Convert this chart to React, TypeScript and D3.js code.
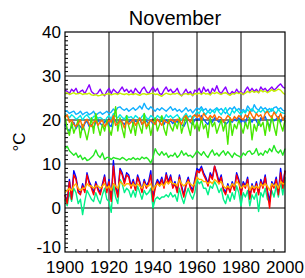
import React from 'react';
import { scaleLinear, line, range } from 'd3';

// November mean temperatures, one value per year 1900..2000
const years = range(1900, 2001);

const purple = [
  26.8, 26.5, 26.0, 27.0, 26.5, 27.2, 26.0, 26.5, 26.8, 26.0,
  27.0, 28.0, 26.5, 26.0, 25.8, 26.2, 27.0, 26.0, 25.5, 26.5,
  27.2, 26.0, 27.0, 26.5, 26.0, 26.8, 27.5, 26.5, 27.0, 26.2,
  26.8, 26.0, 27.2, 26.5, 26.0, 27.0, 27.5, 26.5, 26.0, 26.8,
  27.5, 26.5, 27.2, 26.0, 25.8, 26.8, 27.5, 26.5, 27.0, 26.2,
  26.5, 27.2, 26.0, 25.5, 26.2, 27.0, 26.0, 26.5, 25.5, 26.8,
  26.5, 27.2, 26.0, 27.5, 26.5, 27.0, 25.8, 27.2, 26.5, 27.8,
  26.5, 26.0, 26.8, 27.5, 26.2, 25.8, 26.5, 26.0, 27.0, 26.2,
  26.5, 25.8, 26.8, 27.5, 26.5, 27.2, 26.5, 27.0, 26.2, 27.5,
  26.8, 27.2, 26.5, 27.0, 27.5, 26.8, 27.2, 27.8, 28.2, 27.5, 27.2,
];

const yellowGreen = [
  26.0, 26.2, 25.8, 26.0, 26.2, 25.9, 26.0, 26.1, 25.8, 26.0,
  25.9, 26.1, 25.7, 25.6, 25.8, 25.5, 25.6, 25.8, 25.7, 25.9,
  26.0, 25.7, 25.9, 26.0, 25.8, 26.1, 25.9, 25.8, 26.0, 25.7,
  25.9, 25.8, 26.0, 25.8, 25.6, 25.9, 26.0, 25.8, 25.9, 26.0,
  26.1, 25.8, 25.9, 25.6, 25.4, 25.8, 26.1, 25.9, 25.8, 26.0,
  25.9, 26.1, 25.8, 25.5, 25.9, 26.0, 25.8, 26.0, 25.6, 26.0,
  25.9, 26.1, 25.8, 26.2, 25.9, 26.0, 25.7, 26.2, 26.0, 26.3,
  26.0, 25.8, 26.1, 26.2, 25.9, 25.6, 26.0, 25.9, 26.2, 26.0,
  26.2, 25.8, 26.1, 26.5, 26.2, 26.6, 26.3, 26.5, 26.2, 26.8,
  26.4, 26.6, 26.2, 26.5, 26.9, 26.5, 26.7, 27.0, 26.8, 26.2, 25.8,
];

const lightBlue = [
  22.2, 22.0, 21.5, 21.8, 22.0, 21.3, 21.5, 22.0, 21.2, 21.6,
  21.8, 21.2, 21.5, 22.0, 21.0, 21.5, 21.8, 21.3, 21.6, 22.0,
  21.5, 21.8, 22.5, 22.0, 22.8, 23.0, 22.5, 22.2, 22.6, 22.0,
  22.4, 22.8, 22.2, 22.6, 23.2, 22.5, 23.8, 22.8, 22.4, 23.0,
  22.5, 22.0, 22.6, 22.2, 22.8, 22.4, 22.0, 22.5, 23.0, 22.2,
  22.6, 22.0, 22.4, 21.8, 22.2, 22.8, 22.0, 22.4, 21.6, 22.2,
  22.8, 22.4, 23.0, 22.2, 22.6, 21.8, 22.5, 22.0, 22.4, 22.8,
  22.2, 22.6, 22.0, 21.5, 22.2, 22.8, 22.4, 23.0, 22.2, 22.6,
  22.0, 22.4, 21.8, 23.2, 22.5, 22.0, 23.5, 22.6, 22.2, 23.0,
  22.4, 22.8, 22.2, 22.6, 22.0, 22.8, 23.0, 22.4, 22.8, 22.2, 22.0,
];

const cyan = [
  21.5, 21.0, 20.5, 21.2, 20.8, 20.2, 20.5, 21.0, 20.0, 20.8,
  21.2, 20.5, 20.0, 20.8, 21.0, 20.4, 20.6, 20.2, 19.5, 20.5,
  21.0, 20.2, 21.5, 20.8, 20.5, 21.2, 20.6, 20.2, 21.0, 20.5,
  20.8, 20.2, 21.0, 20.6, 20.0, 20.8, 21.4, 20.5, 20.2, 21.0,
  20.6, 20.2, 21.0, 20.5, 20.8, 20.2, 21.2, 20.6, 21.0, 20.4,
  20.8, 21.2, 20.5, 20.0, 20.8, 21.5, 20.6, 21.0, 20.2, 21.0,
  22.0, 21.5, 22.5, 21.8, 21.2, 22.0, 21.5, 22.2, 21.6, 22.6,
  21.8, 21.2, 22.0, 22.8, 21.5, 21.0, 22.2, 21.6, 22.4, 21.8,
  21.2, 22.0, 21.6, 22.4, 21.8, 22.6, 22.0, 21.5, 22.2, 21.8,
  22.4, 21.6, 22.2, 21.8, 22.6, 22.0, 21.5, 22.4, 21.8, 21.6, 21.5,
];

const blueUpper = [
  19.0, 18.0, 17.5, 18.5, 19.5, 18.0, 19.0, 18.5, 17.8, 19.2,
  19.8, 18.5, 19.0, 18.2, 19.5, 20.0, 19.2, 18.8, 19.5, 20.0,
  19.0, 18.5, 20.5, 19.8, 19.2, 20.2, 19.5, 19.0, 19.8, 19.5,
  20.0, 19.2, 19.8, 19.5, 20.2, 19.0, 19.5, 19.8, 19.2, 20.0,
  19.0, 19.5, 20.2, 19.5, 19.8, 19.0, 20.0, 19.5, 19.8, 19.2,
  19.8, 19.5, 20.0, 19.0, 18.5, 19.5, 20.2, 19.5, 19.0, 20.0,
  20.5, 20.0, 21.0, 20.2, 19.5, 19.0, 20.2, 19.5, 20.5, 20.0,
  19.5, 20.2, 19.8, 19.0, 19.5, 20.0, 19.5, 20.2, 19.8, 20.5,
  19.5, 20.0, 19.2, 21.0, 20.2, 19.5, 20.5, 19.8, 18.8, 20.5,
  20.0, 20.8, 19.5, 18.5, 20.5, 19.8, 20.2, 20.8, 19.5, 20.5, 20.2,
];

const lime = [
  21.0, 18.0, 16.5, 19.5, 17.0, 18.5, 20.0, 16.0, 19.0, 17.5,
  15.5, 18.0, 20.5, 17.0, 21.5, 18.5, 16.5, 19.0, 17.5, 20.0,
  18.0, 16.5, 19.5, 23.0, 17.5, 20.5, 18.0, 16.0, 21.0, 18.5,
  17.0, 19.5, 16.5, 20.0, 18.5, 17.0, 21.5, 18.0, 19.5, 16.5,
  19.0, 20.5, 17.5, 19.0, 21.0, 18.0, 16.5, 20.0, 18.5, 17.5,
  19.5, 18.0, 20.5, 17.0, 19.0, 21.0, 18.5, 16.5, 20.0, 18.0,
  19.5, 17.5, 20.5, 18.0, 19.0, 16.0, 20.5, 18.5, 19.5, 17.0,
  18.5, 20.0, 17.5, 19.5, 14.5, 20.5, 16.5, 19.0, 18.0, 20.0,
  18.5, 17.0, 19.5, 18.0, 20.5, 15.5, 19.0, 17.5, 20.0, 18.5,
  19.5, 16.5, 20.0, 17.5, 21.0, 18.5, 16.5, 20.5, 19.0, 17.5, 20.0,
];

const orangeUpper = [
  20.5, 21.2, 19.5, 20.0, 19.0, 18.5, 19.2, 20.0, 18.2, 19.5,
  20.2, 19.0, 18.5, 19.5, 19.8, 18.8, 19.5, 20.0, 18.5, 19.2,
  20.0, 19.5, 21.0, 18.8, 19.2, 20.0, 19.5, 18.2, 19.8, 19.0,
  19.5, 20.2, 18.8, 19.5, 20.5, 19.0, 19.8, 18.5, 19.2, 20.0,
  19.5, 19.0, 20.2, 19.5, 18.8, 20.0, 19.5, 19.2, 20.2, 19.8,
  19.5, 20.2, 19.8, 19.0, 20.5, 21.0, 20.2, 19.5, 20.8, 21.2,
  20.5, 21.2, 20.0, 21.5, 20.8, 20.2, 21.0, 20.5, 21.2, 20.0,
  20.8, 20.5, 19.5, 20.2, 21.0, 20.5, 19.8, 20.8, 20.2, 21.0,
  20.5, 20.0, 21.2, 20.5, 22.0, 21.0, 20.2, 21.5, 20.8, 21.2,
  20.0, 21.5, 22.0, 21.0, 20.5, 21.8, 21.0, 20.2, 21.5, 20.0, 21.0,
];

const greenMid = [
  13.5, 14.0, 13.0, 12.5, 12.0, 12.5, 11.5, 12.0, 11.0, 11.5,
  10.8, 11.0, 11.5, 12.0, 13.2, 12.0, 11.5, 12.5, 11.0, 11.5,
  11.5, 11.0, 11.5, 11.3, 11.2, 11.0, 11.5, 11.2, 10.8, 11.2,
  11.0, 11.5, 11.0, 11.3, 11.0, 11.6, 11.2, 11.5, 11.0, 10.2,
  11.5, 13.5, 12.5, 12.0, 12.8, 12.0, 12.5, 11.5, 12.0, 11.8,
  12.5, 11.5, 12.0, 13.0, 12.0, 12.5, 11.8, 12.0, 11.5, 12.2,
  13.0, 12.5, 12.0, 12.8, 12.0, 11.5, 12.5, 13.2, 12.0, 12.5,
  11.8, 12.5, 13.0, 12.0, 12.8, 12.2, 11.5, 12.5, 12.0, 11.8,
  11.5, 12.5, 12.0, 12.8, 13.0, 12.2, 12.5, 13.5, 12.0, 12.5,
  12.0, 13.0, 12.5, 13.5, 12.8, 14.2, 13.0, 12.5, 13.2, 12.0, 13.5,
];

const blueLower = [
  3.0, 1.5, 6.5, 2.5, 8.5, 7.0, 4.0, 3.5, 5.5, 4.0,
  8.0, 6.0, 5.0, 3.5, 6.0, 4.5, 3.5, 5.5, 7.5, 4.0,
  6.5, 2.0, 10.8, 5.0, 3.0, 9.0, 8.0, 6.0, 8.0, 7.5,
  5.0, 6.5, 4.5, 7.5, 6.0, 4.0, 6.5, 5.0, 6.0, 8.5,
  2.0, 5.0, 6.5, 5.5, 7.0, 5.0, 8.0, 6.0, 7.5, 5.0,
  6.0, 4.0, 7.5, 5.0, 3.0, 5.5, 7.0, 5.0, 4.0, 6.5,
  9.0, 8.5, 9.5, 8.0, 7.0, 5.5, 8.0, 7.0, 9.5, 8.0,
  6.0, 7.5, 4.5, 3.5, 5.5, 4.0, 6.0, 4.5, 8.0, 6.5,
  3.5, 6.0, 5.0, 7.0, 2.5, 5.5, 4.0, 6.0, 3.5, 6.5,
  5.0, 7.5, 4.0, 1.5, 6.0, 5.0, 7.0, 3.5, 9.0, 5.0, 8.5,
];

const red = [
  3.0, 1.0, 6.0, 2.0, 7.5, 6.5, 3.5, 3.0, 5.0, 3.5,
  7.5, 5.5, 4.5, 3.0, 5.5, 4.0, 3.0, 5.0, 7.0, 3.5,
  6.0, 1.5, 9.5, 4.5, 2.5, 8.5, 7.5, 5.5, 7.5, 7.0,
  4.5, 6.0, 4.0, 7.0, 5.5, 3.5, 6.0, 4.5, 5.5, 7.5,
  1.5, 4.5, 6.0, 5.0, 6.5, 4.5, 7.5, 5.5, 7.0, 4.5,
  5.5, 3.5, 7.0, 4.5, 2.5, 5.0, 6.5, 4.5, 3.5, 6.0,
  8.5, 8.0, 9.0, 7.5, 6.5, 5.0, 7.5, 6.5, 9.5, 7.5,
  5.5, 7.0, 4.0, 3.0, 5.0, 3.5, 5.5, 4.0, 7.5, 6.0,
  3.0, 5.5, 4.5, 6.5, 2.0, 5.0, 3.5, 5.5, 3.0, 6.0,
  4.5, 7.0, 3.5, 0.0, 5.5, 4.5, 6.5, 3.0, 8.0, 4.5, 8.5,
];

const gold = [
  3.5, 4.0, 4.5, 4.0, 5.0, 5.5, 4.5, 4.0, 4.5, 4.5,
  5.5, 5.0, 5.0, 4.5, 5.0, 5.0, 4.5, 5.0, 5.5, 4.5,
  5.0, 4.0, 5.5, 5.0, 4.5, 6.0, 5.5, 5.0, 5.5, 5.5,
  5.0, 5.5, 5.0, 5.5, 5.0, 4.5, 5.5, 5.0, 5.0, 5.5,
  4.0, 5.0, 5.5, 5.0, 5.5, 5.0, 6.0, 5.5, 6.0, 5.5,
  5.5, 5.0, 6.5, 5.5, 5.0, 5.5, 6.0, 5.5, 5.0, 5.5,
  7.0, 6.5, 6.5, 6.0, 6.0, 5.5, 6.0, 5.5, 6.5, 6.0,
  5.5, 6.0, 5.0, 4.5, 5.0, 4.5, 5.5, 5.0, 6.0, 5.5,
  4.5, 5.0, 5.0, 5.5, 4.0, 5.0, 4.5, 5.0, 4.5, 5.5,
  5.0, 5.5, 5.0, 4.0, 5.5, 5.0, 5.5, 4.5, 6.0, 5.5, 5.5,
];

const springGreen = [
  2.0, 0.5, 3.5, 1.5, 4.5, 3.5, 1.0, 2.0, -1.5, 1.5,
  4.0, 3.0, 2.0, 1.5, 3.5, 2.0, 1.0, 3.0, 4.5, 2.0,
  1.5, -1.0, 5.5, 2.5, 1.0, 6.5, 5.5, 3.5, 4.5, 4.0,
  2.5, 4.0, 2.5, 5.0, 3.5, 2.0, 4.0, 3.0, 3.5, 4.5,
  0.0, 2.0, 2.5, 2.0, 2.5, 2.5, 3.0, 2.5, 3.5, 2.5,
  3.0, 1.5, 4.5, 2.5, 1.0, 3.0, 4.5, 3.0, 2.0, 3.5,
  6.5, 5.5, 6.0, 4.5, 4.5, 3.0, 5.0, 4.5, 6.0, 5.0,
  3.5, 4.5, 2.0, 1.0, 3.0, 1.5, 3.5, 2.0, 5.0, 3.5,
  0.5, 3.5, 2.5, 4.0, 0.5, 3.0, 2.0, 3.5, -0.8, 3.5,
  2.5, 4.5, 2.0, 1.5, 4.0, 2.5, 5.0, 2.5, 6.0, 3.0, 7.0,
];

const yTicks = [-10, 0, 10, 20, 30, 40];
const xTicks = [1900, 1920, 1940, 1960, 1980, 2000];

// drawing order, back to front
const seriesList = [
  { values: purple, color: '#8a00ff' },
  { values: yellowGreen, color: '#c4f000' },
  { values: lightBlue, color: '#10b0ff' },
  { values: cyan, color: '#00e6e6' },
  { values: blueUpper, color: '#0060ff' },
  { values: lime, color: '#48e800' },
  { values: orangeUpper, color: '#ff6a00' },
  { values: greenMid, color: '#22e622' },
  { values: springGreen, color: '#00f088' },
  { values: blueLower, color: '#0000ff' },
  { values: red, color: '#ff0000' },
  { values: gold, color: '#ffb400' },
];

const font = '"Liberation Sans", Arial, sans-serif';

export default function App() {
  const width = 305;
  const height = 278;

  const x = scaleLinear().domain([1900, 2000]).range([65, 285]);
  const y = scaleLinear().domain([-10, 40]).range([252, 32]);

  const [x0, x1] = x.range();
  const [y0, y1] = y.range();

  const path = line<number>()
    .x((_, i) => x(years[i]))
    .y((d) => y(d));

  const minorY = range(-10, 41).filter((v) => v % 10 !== 0);
  const minorX = range(1905, 2000, 5).filter((v) => v % 20 !== 0);

  return (
    <svg
      width={width}
      height={height}
      style={{ position: 'absolute', left: 0, top: 0, background: '#fff' }}
      fontFamily={font}
    >
      {/* grid */}
      {yTicks.slice(1, -1).map((t) => (
        <line key={'gy' + t} x1={x0} x2={x1} y1={y(t)} y2={y(t)} stroke="#000" strokeWidth={1} />
      ))}
      {xTicks.slice(1, -1).map((t) => (
        <line key={'gx' + t} x1={x(t)} x2={x(t)} y1={y0} y2={y1} stroke="#000" strokeWidth={1} />
      ))}

      {/* minor ticks */}
      {minorY.map((t) => (
        <line key={'my' + t} x1={x0} x2={x0 + 3} y1={y(t)} y2={y(t)} stroke="#000" strokeWidth={1} />
      ))}
      {minorX.map((t) => (
        <line key={'mx' + t} x1={x(t)} x2={x(t)} y1={y0} y2={y0 - 3} stroke="#000" strokeWidth={1} />
      ))}

      {/* series */}
      {seriesList.map((s, i) => (
        <path key={i} d={path(s.values) || ''} fill="none" stroke={s.color} strokeWidth={1.4} strokeLinejoin="round" />
      ))}

      {/* frame */}
      <rect x={x0} y={y1} width={x1 - x0} height={y0 - y1} fill="none" stroke="#000" strokeWidth={1.2} />

      {/* labels */}
      {yTicks.map((t) => (
        <text
          key={'ly' + t}
          x={x0 - 4}
          y={Math.min(y(t), y0 - 5)}
          dy="0.36em"
          textAnchor="end"
          fontSize={17}
        >
          {t}
        </text>
      ))}
      {xTicks.map((t) => (
        <text key={'lx' + t} x={x(t)} y={273} textAnchor="middle" fontSize={17}>
          {t}
        </text>
      ))}
      <text x={175} y={25} textAnchor="middle" fontSize={20}>
        November
      </text>
      <text transform="translate(25,142) rotate(-90)" textAnchor="middle" fontSize={17}>
        °C
      </text>
    </svg>
  );
}
